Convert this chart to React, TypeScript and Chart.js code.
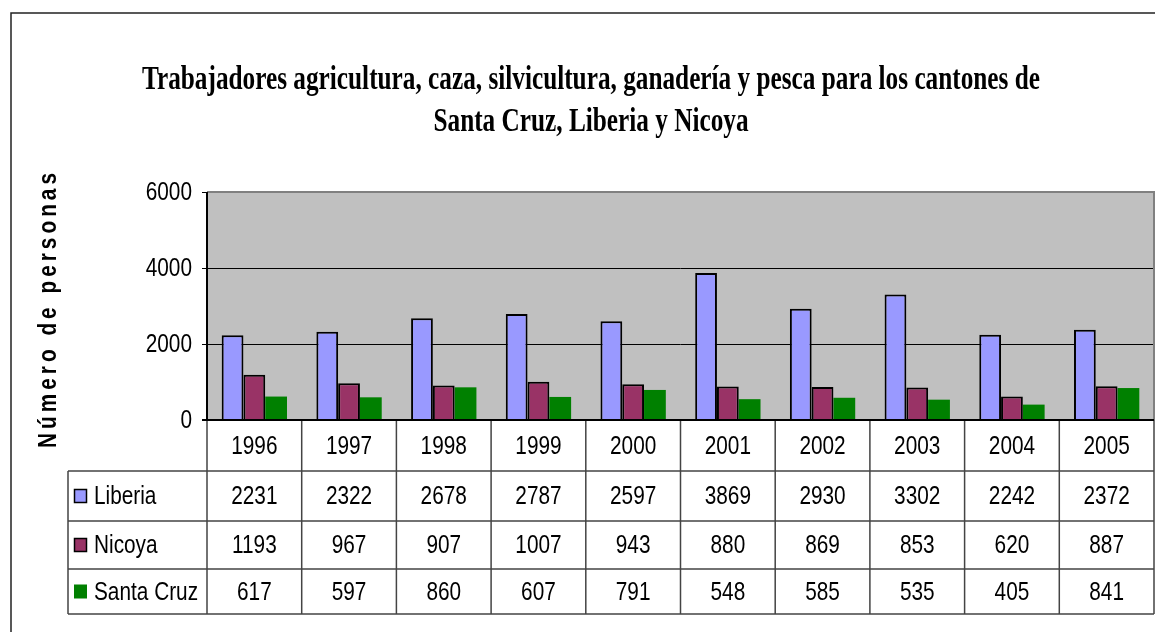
import React, { useEffect, useRef } from "react";
import { Chart, registerables } from "chart.js";

Chart.register(...registerables);

const years = ["1996", "1997", "1998", "1999", "2000", "2001", "2002", "2003", "2004", "2005"];
const liberia = [2231, 2322, 2678, 2787, 2597, 3869, 2930, 3302, 2242, 2372];
const nicoya = [1193, 967, 907, 1007, 943, 880, 869, 853, 620, 887];
const santaCruz = [617, 597, 860, 607, 791, 548, 585, 535, 405, 841];
const seriesNames = ["Liberia", "Nicoya", "Santa Cruz"];
const seriesColors = ["#9999FF", "#993366", "#008000"];
const titleLines = [
  "Trabajadores agricultura, caza, silvicultura, ganadería y pesca para los cantones de",
  "Santa Cruz, Liberia y Nicoya",
];
const yTitle = "Número de personas";
const yMax = 6000;
const yStep = 2000;

const NARROW = 0.8;
const SANS = '"Liberation Sans", Arial, sans-serif';

function drawText(
  ctx: CanvasRenderingContext2D,
  text: string,
  x: number,
  y: number,
  font: string,
  align: CanvasTextAlign,
  sx: number,
  baseline: CanvasTextBaseline = "middle"
) {
  ctx.save();
  ctx.font = font;
  ctx.textAlign = align;
  ctx.textBaseline = baseline;
  ctx.fillStyle = "#000";
  ctx.translate(x, y);
  ctx.scale(sx, 1);
  ctx.fillText(text, 0, 0);
  ctx.restore();
}

const decorPlugin = {
  id: "decor",
  beforeDatasetsDraw(chart: any) {
    // nothing
  },
  beforeDraw(chart: any) {
    const { ctx, chartArea } = chart;
    ctx.save();
    ctx.fillStyle = "#C0C0C0";
    ctx.fillRect(chartArea.left, chartArea.top, chartArea.right - chartArea.left, chartArea.bottom - chartArea.top);
    ctx.restore();
  },
  afterDraw(chart: any) {
    const { ctx, chartArea } = chart;
    const xs = chart.scales.x;
    const ys = chart.scales.y;
    const L = chartArea.left;
    const R = chartArea.right;
    const T = chartArea.top;
    const B = chartArea.bottom;

    // outer frame
    ctx.save();
    ctx.strokeStyle = "#222";
    ctx.lineWidth = 1.5;
    ctx.beginPath();
    ctx.moveTo(11, chart.height + 2);
    ctx.lineTo(11, 13);
    ctx.lineTo(chart.width + 2, 13);
    ctx.stroke();

    // plot border top/right gray
    ctx.strokeStyle = "#808080";
    ctx.lineWidth = 2;
    ctx.beginPath();
    ctx.moveTo(L, T);
    ctx.lineTo(R, T);
    ctx.lineTo(R, B);
    ctx.stroke();
    ctx.restore();

    // title
    ctx.save();
    const tFont = 'bold 33px "Liberation Serif", "Times New Roman", serif';
    ctx.font = tFont;
    const w1 = ctx.measureText(titleLines[0]).width;
    const tsx = 898 / w1;
    ctx.restore();
    drawText(ctx, titleLines[0], 591, 89, tFont, "center", tsx, "alphabetic");
    drawText(ctx, titleLines[1], 591, 131, tFont, "center", tsx, "alphabetic");

    // y axis title (rotated, letter-spaced)
    ctx.save();
    const yFont = "bold 26px " + SANS;
    ctx.font = yFont;
    ctx.fillStyle = "#000";
    ctx.textBaseline = "middle";
    ctx.textAlign = "left";
    const chars = Array.from(yTitle);
    const widths = chars.map((c) => ctx.measureText(c).width * 0.8);
    const total = widths.reduce((a, b) => a + b, 0);
    const spacing = (275 - total) / (chars.length - 1);
    ctx.translate(48, 448);
    ctx.rotate(-Math.PI / 2);
    let cx = 0;
    chars.forEach((c, i) => {
      ctx.save();
      ctx.translate(cx, 0);
      ctx.scale(0.8, 1);
      ctx.fillText(c, 0, 1);
      ctx.restore();
      cx += widths[i] + spacing;
    });
    ctx.restore();

    // y tick labels
    const tFontSans = "26px " + SANS;
    ys.ticks.forEach((t: any) => {
      const py = ys.getPixelForValue(t.value);
      drawText(ctx, String(t.value), L - 15, py + 1, tFontSans, "right", NARROW);
    });

    // table
    const n = years.length;
    const cw = (R - L) / n;
    const rowLines = [B, 471, 521, 569, 614];
    const legendLeft = 68;
    ctx.save();
    ctx.strokeStyle = "#444";
    ctx.lineWidth = 1.5;
    ctx.beginPath();
    // horizontal lines
    ctx.moveTo(legendLeft, rowLines[1]);
    ctx.lineTo(R, rowLines[1]);
    ctx.moveTo(legendLeft, rowLines[2]);
    ctx.lineTo(R, rowLines[2]);
    ctx.moveTo(legendLeft, rowLines[3]);
    ctx.lineTo(R, rowLines[3]);
    ctx.moveTo(legendLeft, rowLines[4]);
    ctx.lineTo(R, rowLines[4]);
    // legend left border
    ctx.moveTo(legendLeft, rowLines[1]);
    ctx.lineTo(legendLeft, rowLines[4]);
    // vertical boundaries
    for (let i = 0; i <= n; i++) {
      const x = i === n ? R : xs.getPixelForValue(i) - cw / 2;
      ctx.moveTo(x, B);
      ctx.lineTo(x, rowLines[4]);
    }
    ctx.stroke();
    ctx.restore();

    // axes lines
    ctx.save();
    ctx.strokeStyle = "#000";
    ctx.lineWidth = 2;
    ctx.beginPath();
    ctx.moveTo(L, T);
    ctx.lineTo(L, B);
    ctx.moveTo(L - 5, B);
    ctx.lineTo(R, B);
    ctx.stroke();
    ctx.restore();

    const rowCenters = [
      (rowLines[0] + rowLines[1]) / 2,
      (rowLines[1] + rowLines[2]) / 2,
      (rowLines[2] + rowLines[3]) / 2,
      (rowLines[3] + rowLines[4]) / 2,
    ];
    const series = [liberia, nicoya, santaCruz];
    years.forEach((yr, i) => {
      const x = xs.getPixelForValue(i);
      drawText(ctx, yr, x, rowCenters[0] + 1, tFontSans, "center", NARROW);
      series.forEach((s, k) => {
        drawText(ctx, String(s[i]), x, rowCenters[k + 1] + 1, tFontSans, "center", NARROW);
      });
    });

    // legend keys
    seriesNames.forEach((name, k) => {
      const cy = rowCenters[k + 1];
      ctx.save();
      ctx.fillStyle = seriesColors[k];
      ctx.fillRect(74, cy - 7, 13, 14);
      if (k < 2) {
        ctx.strokeStyle = "#000";
        ctx.lineWidth = 1.5;
        ctx.strokeRect(74.5, cy - 6.5, 12, 13);
      }
      ctx.restore();
      drawText(ctx, name, 94, cy + 1, tFontSans, "left", NARROW);
    });
  },
};

export default function App() {
  const ref = useRef<HTMLCanvasElement | null>(null);
  useEffect(() => {
    if (!ref.current) return;
    const chart = new Chart(ref.current, {
      type: "bar",
      data: {
        labels: years,
        datasets: [
          { label: seriesNames[0], data: liberia, backgroundColor: seriesColors[0], borderColor: "#000", borderWidth: 2 },
          { label: seriesNames[1], data: nicoya, backgroundColor: seriesColors[1], borderColor: "#000", borderWidth: 2 },
          { label: seriesNames[2], data: santaCruz, backgroundColor: seriesColors[2], borderColor: "#000", borderWidth: 0 },
        ],
      },
      options: {
        responsive: false,
        animation: false,
        layout: { padding: { left: 0, top: 192, right: 1, bottom: 212 } },
        plugins: { legend: { display: false }, title: { display: false }, tooltip: { enabled: false } },
        datasets: { bar: { categoryPercentage: 0.69, barPercentage: 1 } },
        scales: {
          x: { display: false },
          y: {
            min: 0,
            max: yMax,
            ticks: { display: false, stepSize: yStep },
            grid: { color: "#000", lineWidth: 1, drawTicks: true, tickLength: 5 },
            border: { display: false },
            afterFit: (scale: any) => {
              scale.width = 207;
            },
          },
        },
      } as any,
      plugins: [decorPlugin],
    });
    return () => chart.destroy();
  }, []);
  return (
    <canvas
      ref={ref}
      width={1155}
      height={632}
      style={{ position: "absolute", left: 0, top: 0, display: "block", width: 1155, height: 632 }}
    />
  );
}
